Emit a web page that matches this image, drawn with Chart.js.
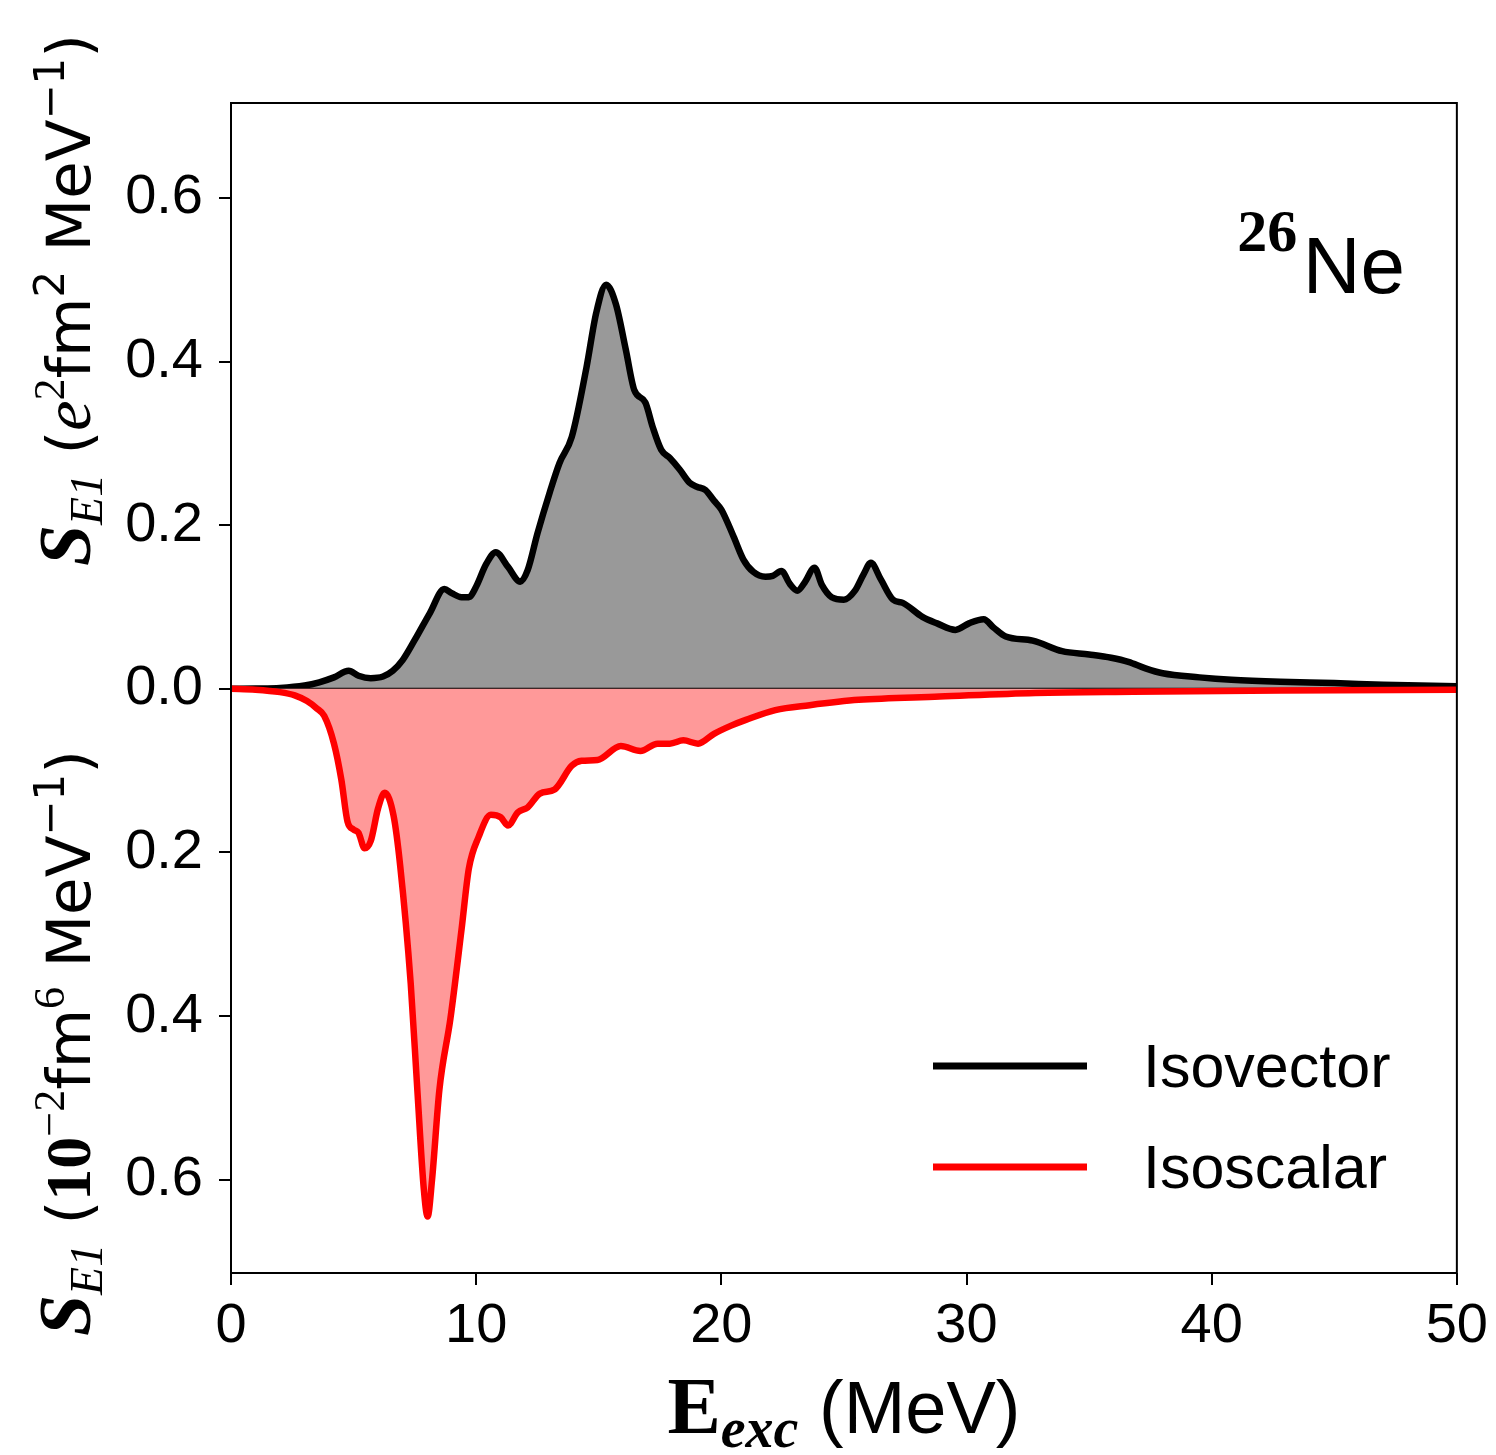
<!DOCTYPE html>
<html>
<head>
<meta charset="utf-8">
<script src="https://cdn.jsdelivr.net/npm/chart.js@4.4.1/dist/chart.umd.min.js"></script>
<style>
  html, body { margin: 0; padding: 0; background: #fff; }
  #wrap { width: 1496px; height: 1455px; position: relative; }
</style>
</head>
<body>
<div id="wrap"><canvas id="chart-e1"></canvas></div>
<script>
// ── DATA ──────────────────────────────────
// Isovector strength (e^2 fm^2 MeV^-1)
const ivEnergy = [0, 1, 2, 3, 3.6, 4.2, 4.8, 5.2, 5.7, 6.2, 6.6, 7.0, 7.5, 8.1, 8.7, 9.0, 9.4, 9.7, 10.0, 10.4,
  10.8, 11.3, 11.8, 12.1, 12.5, 13.0, 13.4, 13.9, 14.5, 14.9, 15.3, 15.7, 16.1, 16.45, 16.9, 17.2, 17.55, 17.9,
  18.3, 18.7, 19.0, 19.35, 19.7, 20.0, 20.5, 20.9, 21.3, 21.8, 22.1, 22.45, 22.8, 23.1, 23.4, 23.8, 24.1, 24.5,
  25.0, 25.45, 25.8, 26.1, 26.5, 27.0, 27.4, 28.2, 28.8, 29.55, 30.1, 30.7, 31.1, 31.6, 32.7, 33.9, 35.0, 35.9,
  36.6, 37.3, 38.0, 39.5, 40.8, 42.8, 45, 47, 50];
const ivStrength = [0, 0.0003, 0.001, 0.004, 0.008, 0.014, 0.022, 0.016, 0.013, 0.015, 0.022, 0.035, 0.06, 0.092,
  0.122, 0.117, 0.112, 0.112, 0.125, 0.152, 0.167, 0.149, 0.131, 0.145, 0.19, 0.24, 0.276, 0.308, 0.393, 0.46,
  0.494, 0.47, 0.415, 0.365, 0.35, 0.32, 0.292, 0.282, 0.268, 0.252, 0.247, 0.243, 0.23, 0.219, 0.186, 0.158,
  0.143, 0.137, 0.138, 0.144, 0.128, 0.12, 0.13, 0.148, 0.127, 0.112, 0.109, 0.12, 0.14, 0.154, 0.134, 0.109,
  0.105, 0.088, 0.08, 0.072, 0.08, 0.085, 0.075, 0.064, 0.059, 0.046, 0.042, 0.038, 0.033, 0.025, 0.019, 0.014,
  0.011, 0.0085, 0.007, 0.005, 0.003];

// Isoscalar strength (10^-2 fm^6 MeV^-1), plotted downwards
const isEnergy = [0, 1, 2, 2.6, 3.1, 3.5, 3.8, 4.2, 4.5, 4.75, 5.0, 5.2, 5.45, 5.7, 6.0, 6.27, 6.63, 6.9, 7.33,
  7.6, 7.86, 8.02, 8.2, 8.5, 8.95, 9.4, 9.7, 10.1, 10.6, 11.0, 11.3, 11.7, 12.1, 12.6, 13.2, 13.9, 14.3, 14.95,
  15.9, 16.7, 17.4, 17.9, 18.45, 19.05, 19.7, 20.4, 21.0, 22.2, 23.6, 25.6, 28.9, 32.8, 36.8, 42.8, 50];
const isStrength = [0, 0.001, 0.004, 0.008, 0.015, 0.024, 0.033, 0.067, 0.111, 0.162, 0.172, 0.176, 0.195,
  0.186, 0.146, 0.127, 0.155, 0.216, 0.36, 0.49, 0.61, 0.645, 0.6, 0.49, 0.403, 0.295, 0.22, 0.181, 0.154,
  0.157, 0.167, 0.151, 0.145, 0.128, 0.123, 0.094, 0.088, 0.087, 0.07, 0.076, 0.067, 0.067, 0.063, 0.067,
  0.055, 0.045, 0.038, 0.026, 0.02, 0.0135, 0.0095, 0.005, 0.0035, 0.002, 0.001];

const xTicks = [0, 10, 20, 30, 40, 50];
const yTicks = [-0.6, -0.4, -0.2, 0, 0.2, 0.4, 0.6];
const seriesNames = ['Isovector', 'Isoscalar'];

// ── FONTS ─────────────────────────────────
const SANS = '"Liberation Sans", Arial, sans-serif';
const WIDE = '"DejaVu Sans", sans-serif';
const SERIF = '"Liberation Serif", "DejaVu Serif", serif';

// draw a row of text pieces (for sub/superscripts)
function drawRuns(ctx, runs, x, y, align) {
  let total = 0;
  runs.forEach(r => { ctx.font = r.f; r.w = ctx.measureText(r.t).width; total += r.w; });
  let cx = align === 'center' ? x - total / 2 : (align === 'right' ? x - total : x);
  ctx.textAlign = 'left';
  ctx.textBaseline = 'alphabetic';
  runs.forEach(r => {
    ctx.font = r.f;
    ctx.fillText(r.t, cx, y + (r.dy || 0));
    cx += r.w;
  });
}

const labelsPlugin = {
  id: 'labelsPlugin',
  afterDraw(chart) {
    const ctx = chart.ctx;
    const a = chart.chartArea;
    ctx.save();
    ctx.fillStyle = '#000';

    // frame
    ctx.strokeStyle = '#000';
    ctx.lineWidth = 2;
    ctx.strokeRect(a.left, a.top, a.right - a.left, a.bottom - a.top);

    // y titles (rotated)
    const big = '61px ' + WIDE, sup = '42px ' + WIDE;
    const upper = [
      { t: 'S', f: 'italic bold 74px ' + SERIF },
      { t: 'E1', f: 'italic 46px ' + SERIF, dy: 12 },
      { t: ' (', f: big },
      { t: 'e', f: 'italic 68px ' + SERIF },
      { t: '2', f: '44px ' + SERIF, dy: -26 },
      { t: 'fm', f: big },
      { t: '2', f: sup, dy: -26 },
      { t: ' MeV', f: big },
      { t: '\u22121', f: sup, dy: -26 },
      { t: ')', f: big }
    ];
    const lower = [
      { t: 'S', f: 'italic bold 74px ' + SERIF },
      { t: 'E1', f: 'italic 46px ' + SERIF, dy: 12 },
      { t: ' (', f: big },
      { t: '10', f: 'bold 64px ' + SERIF },
      { t: '\u22122', f: '44px ' + SERIF, dy: -26 },
      { t: 'fm', f: big },
      { t: '6', f: '44px ' + SERIF, dy: -26 },
      { t: ' MeV', f: big },
      { t: '\u22121', f: sup, dy: -26 },
      { t: ')', f: big }
    ];
    [[upper, 300], [lower, 1043]].forEach(([runs, cy]) => {
      ctx.save();
      ctx.translate(90, cy);
      ctx.rotate(-Math.PI / 2);
      drawRuns(ctx, runs, 0, 0, 'center');
      ctx.restore();
    });

    // x title
    drawRuns(ctx, [
      { t: 'E', f: 'bold 80px ' + SERIF },
      { t: 'exc', f: 'italic bold 56px ' + SERIF, dy: 14 },
      { t: ' (MeV)', f: '74px ' + SANS }
    ], (a.left + a.right) / 2, 1433, 'center');

    // nucleus label
    drawRuns(ctx, [
      { t: '26', f: 'bold 60px ' + SERIF, dy: -42 },
      { t: ' ', f: '20px ' + SANS },
      { t: 'Ne', f: '80px ' + SANS }
    ], 1405, 293, 'right');

    // legend
    const rows = [
      { name: seriesNames[0], color: '#000', y: 1066 },
      { name: seriesNames[1], color: '#ff0000', y: 1167 }
    ];
    rows.forEach(r => {
      ctx.strokeStyle = r.color;
      ctx.lineWidth = 7;
      ctx.beginPath();
      ctx.moveTo(933, r.y);
      ctx.lineTo(1087, r.y);
      ctx.stroke();
      ctx.font = '61px ' + SANS;
      ctx.textAlign = 'left';
      ctx.textBaseline = 'middle';
      ctx.fillText(r.name, 1143, r.y + 4);
    });
    ctx.restore();
  }
};

// ── CHART ─────────────────────────────────
const ivPoints = ivEnergy.map((e, i) => ({ x: e, y: ivStrength[i] }));
const isPoints = isEnergy.map((e, i) => ({ x: e, y: -isStrength[i] }));

new Chart(document.getElementById('chart-e1'), {
  type: 'line',
  data: {
    datasets: [
      {
        label: seriesNames[1],
        data: isPoints,
        borderColor: '#ff0000',
        backgroundColor: 'rgb(255, 153, 153)',
        fill: 'origin',
        borderWidth: 6.5,
        pointRadius: 0,
        cubicInterpolationMode: 'monotone',
        order: 0
      },
      {
        label: 'zero',
        data: [{ x: 0, y: 0 }, { x: 50, y: 0 }],
        borderColor: '#000',
        borderWidth: 2,
        pointRadius: 0,
        fill: false,
        order: 1
      },
      {
        label: seriesNames[0],
        data: ivPoints,
        borderColor: '#000',
        backgroundColor: 'rgb(153, 153, 153)',
        fill: 'origin',
        borderWidth: 6.5,
        pointRadius: 0,
        cubicInterpolationMode: 'monotone',
        order: 2
      }
    ]
  },
  options: {
    responsive: true,
    maintainAspectRatio: false,
    animation: false,
    layout: { padding: { top: 103, right: 37, left: 0, bottom: 0 } },
    plugins: { legend: { display: false }, tooltip: { enabled: false } },
    scales: {
      x: {
        type: 'linear',
        min: 0,
        max: 50,
        afterBuildTicks(s) { s.ticks = xTicks.map(v => ({ value: v })); },
        afterFit(s) { s.height = 182; },
        grid: { drawOnChartArea: false, color: '#000', lineWidth: 2, tickLength: 12 },
        border: { display: false },
        ticks: { color: '#000', font: { family: SANS, size: 56 }, padding: 8, maxRotation: 0 }
      },
      y: {
        min: -0.714,
        max: 0.716,
        afterBuildTicks(s) { s.ticks = yTicks.map(v => ({ value: v })); },
        afterFit(s) { s.width = 231; },
        grid: { drawOnChartArea: false, color: '#000', lineWidth: 2, tickLength: 12 },
        border: { display: false },
        ticks: {
          color: '#000',
          font: { family: SANS, size: 56 },
          padding: 16,
          callback: v => Math.abs(v).toFixed(1)
        }
      }
    }
  },
  plugins: [labelsPlugin]
});
</script>
</body>
</html>
